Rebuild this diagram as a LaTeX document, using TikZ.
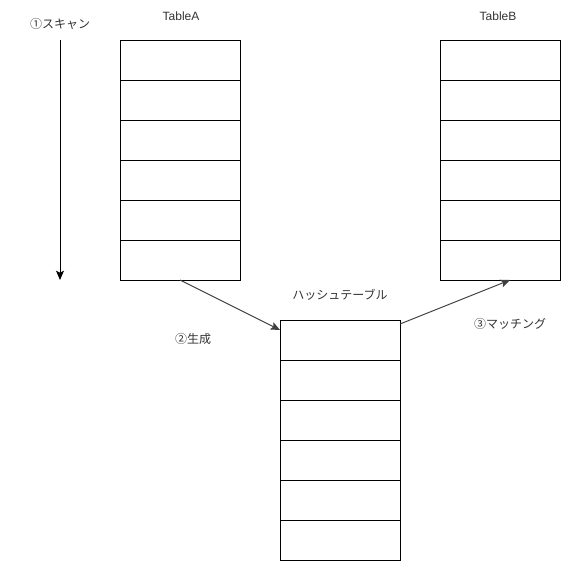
\documentclass[tikz,border=0pt]{standalone}
\usepackage{fontspec}
\setmainfont{Liberation Sans}
\newfontfamily\jpfont{Noto Sans CJK JP}
\usetikzlibrary{arrows.meta}
\tikzset{
	cell/.style={draw=black, line width=0.75pt, minimum width=90pt, minimum height=30pt, inner sep=0pt, outer sep=0pt},
	lbl/.style={font=\fontsize{9}{11}\selectfont, text=black!80, inner sep=0pt},
	flow/.style={-{Stealth[length=7pt,width=6pt,inset=1.5pt]}, line width=0.75pt, color=black!75}
}

\begin{document}
\begin{tikzpicture}[x=0.75pt, y=-0.75pt]
	%%%%% START %%%%%
	
	\useasboundingbox (0, 0) rectangle (571, 561);
	
	% tables
	\foreach \i in {0,...,5} {
		\node[cell] (a\i) at (180, 60 + 40*\i) {};
		\node[cell] (b\i) at (500, 60 + 40*\i) {};
		\node[cell] (h\i) at (340, 340 + 40*\i) {};
	}
	
	% labels
	\node[lbl] (tA) at (181, 16) {TableA};
	\node[lbl] (tB) at (498, 16) {TableB};
	\node[lbl] (tH) at (340, 295) {\jpfont ハッシュテーブル};
	\node[lbl] (scan) at (60, 24) {\jpfont ①スキャン};
	\node[lbl] (gen) at (193, 339) {\jpfont ②生成};
	\node[lbl] (match) at (510, 324) {\jpfont ③マッチング};
	
	% arrows
	\coordinate (s0) at (60, 40);
	\coordinate (s1) at (60, 280);
	\draw[flow, color=black] (s0) -- (s1);
	\draw[flow] (a5.south) -- ([yshift=-7.5pt]h0.north west);
	\draw[flow] ([yshift=-3pt]h0.north east) -- ([xshift=7.5pt]b5.south);
	
	%%%%% END %%%%%
\end{tikzpicture}
\end{document}
